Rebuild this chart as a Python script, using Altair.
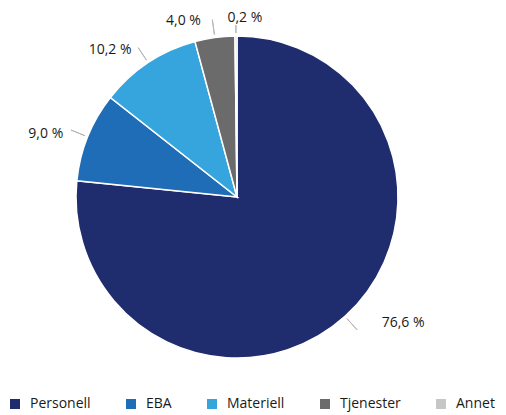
import altair as alt
import pandas as pd

##### Data

kategorier = ["Personell", "EBA", "Materiell", "Tjenester", "Annet"]
andeler = [76.6, 9.0, 10.2, 4.0, 0.2]
etiketter = ["76,6 %", "9,0 %", "10,2 %", "4,0 %", "0,2 %"]
farger = ["#1f2c6e", "#1f6db6", "#36a5de", "#6b6b6b", "#c6c6c6"]

df = pd.DataFrame({
    "kategori": kategorier,
    "andel": andeler,
    "etikett": etiketter,
    "rekke": list(range(len(kategorier))),
})

FONT = "Open Sans"
CX, CY = 229, 189  # pie centre inside the view

base = (
    alt.Chart(df)
    .transform_window(cum="sum(andel)", sort=[alt.SortField("rekke")], frame=[None, 0])
    .transform_joinaggregate(total="sum(andel)")
    .transform_calculate(
        t0="2 * PI * (datum.cum - datum.andel) / datum.total",
        t1="2 * PI * datum.cum / datum.total",
    )
    .transform_calculate(mid="(datum.t0 + datum.t1) / 2")
)

pie = base.mark_arc(radius=161, stroke="white", strokeWidth=1.5).encode(
    x=alt.value(CX),
    y=alt.value(CY),
    theta=alt.Theta("t0:Q", scale=None),
    theta2="t1:Q",
    color=alt.Color(
        "kategori:N",
        sort=kategorier,
        scale=alt.Scale(domain=kategorier, range=farger),
        legend=alt.Legend(
            title=None,
            orient="none",
            legendX=0,
            legendY=389,
            direction="horizontal",
            symbolType="square",
            symbolSize=100,
            symbolStrokeWidth=0,
            labelFont=FONT,
            labelFontSize=14,
            labelColor="#1a1a1a",
            labelOffset=8,
            columnPadding=33,
        ),
    ),
    tooltip=["kategori:N", "andel:Q"],
)

TOP = "datum.mid >= 1.99 * PI"
NEAR_TOP = "datum.mid >= 1.9 * PI && datum.mid < 1.99 * PI"
LEFT = "datum.mid >= PI && datum.mid < 1.9 * PI"
RIGHT = "datum.mid < PI"


# leader lines: zero-width arcs give a short radial stroke
def leader_layer(cond, outer):
    return (
        base.transform_filter(cond)
        .mark_arc(radius=outer, radius2=164, stroke="#b5b5b5", strokeWidth=1)
        .encode(
            x=alt.value(CX),
            y=alt.value(CY),
            theta=alt.Theta("mid:Q", scale=None),
            theta2="mid:Q",
        )
    )


text_style = dict(font=FONT, fontSize=14, color="#1a1a1a", baseline="middle")


def label_layer(cond, radius, align, dx, dy):
    return (
        base.transform_filter(cond)
        .mark_text(radius=radius, align=align, dx=dx, dy=dy, **text_style)
        .encode(
            x=alt.value(CX),
            y=alt.value(CY),
            theta=alt.Theta("mid:Q", scale=None),
            text="etikett:N",
        )
    )


leaders = leader_layer(f"!({TOP})", 179) + leader_layer(TOP, 172)

labels = (
    label_layer(RIGHT, 183, "left", 22, -10)
    + label_layer(LEFT, 182, "right", -5, 5)
    + label_layer(NEAR_TOP, 182, "right", -11, 4)
    + label_layer(TOP, 183, "center", 9, 4)
)

chart = (
    (pie + leaders + labels)
    .properties(width=490, height=404, padding=0, autosize="none")
    .configure_view(stroke=None)
)

chart.save("out.html", embed_options={"renderer": "svg", "actions": False})
